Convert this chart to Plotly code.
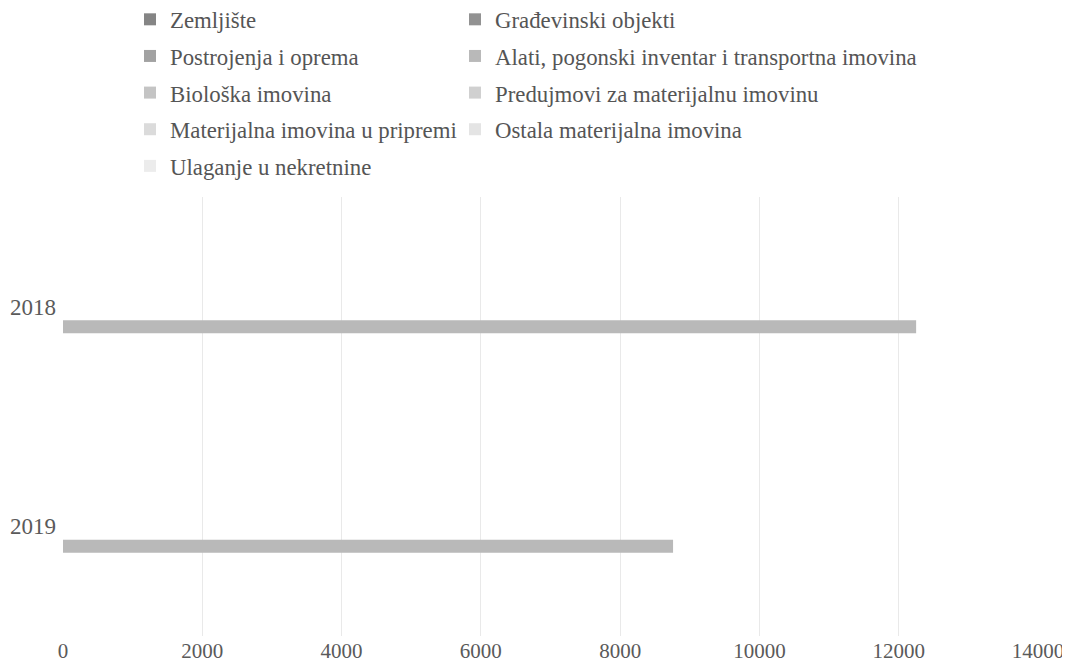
import plotly.graph_objects as go

years = ["2019", "2018"]
series_names = [
    "Zemljište",
    "Građevinski objekti",
    "Postrojenja i oprema",
    "Alati, pogonski inventar i transportna imovina",
    "Biološka imovina",
    "Predujmovi za materijalnu imovinu",
    "Materijalna imovina u pripremi",
    "Ostala materijalna imovina",
    "Ulaganje u nekretnine",
]
# values per series, ordered as years (2019, 2018)
series_values = [
    [0, 0],
    [0, 0],
    [0, 0],
    [8760, 12250],
    [0, 0],
    [0, 0],
    [0, 0],
    [0, 0],
    [0, 0],
]
colors = ["#858585", "#929292", "#a2a2a2", "#b9b9b9", "#c4c4c4",
          "#d0d0d0", "#dbdbdb", "#e4e4e4", "#ececec"]
x_ticks = [0, 2000, 4000, 6000, 8000, 10000, 12000, 14000]

FONT = "Liberation Serif"
W, H = 1062, 657
T, B = 189, 29
fig = go.Figure()
for i, (name, vals) in enumerate(zip(series_names, series_values)):
    fig.add_trace(go.Bar(
        y=years, x=vals, name=name, orientation="h",
        marker=dict(color=colors[i], line=dict(width=0)),
        legend="legend" if i % 2 == 0 else "legend2",
        legendgroup="g%d" % i,
    ))

plot_h = H - T - B
leg_y = 1 + (T + 10) / plot_h
legend_common = dict(
    font=dict(family=FONT, size=22.8, color="#555555"),
    bgcolor="rgba(0,0,0,0)",
    tracegroupgap=4,
    itemwidth=30,
    traceorder="grouped",
    yref="paper", xref="container",
    yanchor="top", xanchor="left",
    itemclick=False,
)
fig.update_layout(
    width=W, height=H,
    paper_bgcolor="white", plot_bgcolor="white",
    margin=dict(l=55, r=32, t=T, b=B, autoexpand=False),
    barmode="group", bargap=0.18, bargroupgap=0.35,
    font=dict(family=FONT, size=21, color="#5a5a5a"),
    legend=dict(x=122 / W, y=leg_y, **legend_common),
    legend2=dict(x=447 / W, y=leg_y, **legend_common),
    xaxis=dict(
        range=[0, 14000], tickvals=x_ticks, tickformat="d",
        showgrid=True, gridcolor="#e9e9e9", gridwidth=1,
        zeroline=False, showline=False, ticks="",
        tickfont=dict(family=FONT, size=21, color="#5a5a5a"),
        ticklabelstandoff=0,
    ),
    yaxis=dict(
        type="category", categoryorder="array", categoryarray=years,
        showgrid=False, zeroline=False, showline=False, ticks="",
        tickfont=dict(family=FONT, size=23, color="#5a5a5a"),
        ticklabelstandoff=6,
    ),
)
fig.write_html("out.html")
